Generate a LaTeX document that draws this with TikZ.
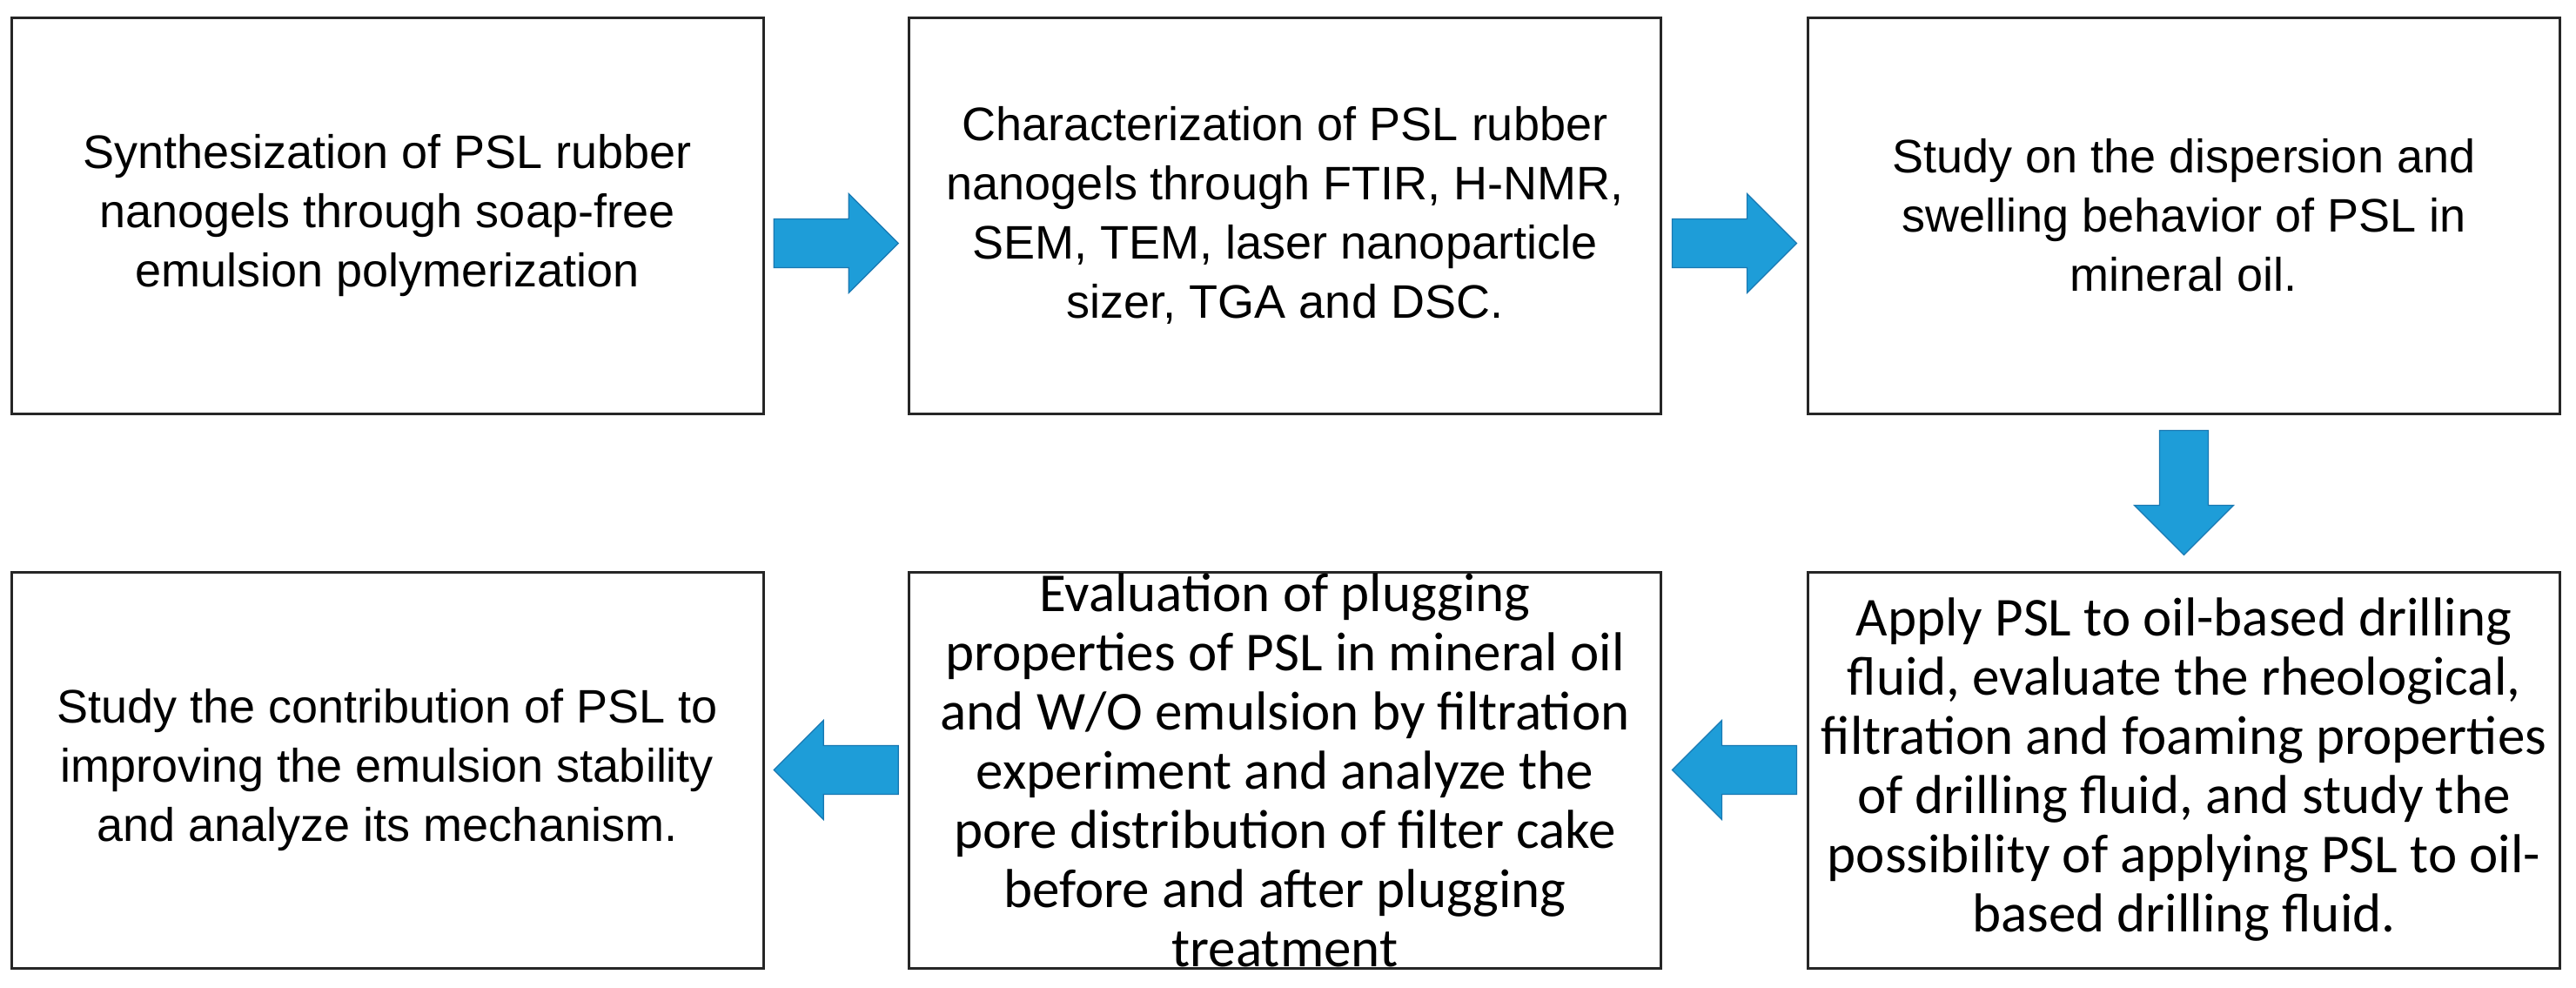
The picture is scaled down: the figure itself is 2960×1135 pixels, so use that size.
\documentclass[tikz,border=0pt]{standalone}
\usepackage{fontspec}
\setmainfont{Liberation Sans}
\newfontfamily\calib{Carlito}
\usetikzlibrary{calc}
\definecolor{arrowblue}{RGB}{30,157,216}
\definecolor{arrowedge}{RGB}{24,120,178}
\definecolor{boxline}{RGB}{38,38,38}
\tikzset{
  blockarr/.pic={\draw[blockarrow] (-71.5,-28) -- (14.5,-28) -- (14.5,-57) -- (71.5,0) -- (14.5,57) -- (14.5,28) -- (-71.5,28) -- cycle;}
}
\begin{document}
\begin{tikzpicture}[x=0.25pt,y=-0.25pt,
  stepbox/.style={draw=boxline, line width=0.75pt, fill=white, minimum width=216pt, minimum height=113.75pt, inner sep=0pt, align=center, font=\fontsize{13.5pt}{17pt}\selectfont},
  calbox/.style={stepbox, font=\calib\fontsize{15.75pt}{17pt}\selectfont},
  blockarrow/.style={fill=arrowblue, draw=arrowedge, line width=0.3pt, line join=miter}]
\useasboundingbox (0,0) rectangle (2960,1135);
\fill[white] (0,0) rectangle (2960,1135);

\node[stepbox] (b1) at (445,247.5) {Synthesization of PSL rubber\\nanogels through soap-free\\emulsion polymerization};
\node[stepbox] (b2) at (1476.5,247.5) {Characterization of PSL rubber\\nanogels through FTIR, H-NMR,\\SEM, TEM, laser nanoparticle\\sizer, TGA and DSC.};
\node[stepbox] (b3) at (2509.5,247.5) {Study on the dispersion and\\swelling behavior of PSL in\\mineral oil.};
\node[calbox] (b6) at (2509.5,884.5) {Apply PSL to oil-based drilling\\fluid, evaluate the rheological,\\filtration and foaming properties\\of drilling fluid, and study the\\possibility of applying PSL to oil-\\based drilling fluid.};
\node[calbox] (b5) at (1476.5,884.5) {Evaluation of plugging\\properties of PSL in mineral oil\\and W/O emulsion by filtration\\experiment and analyze the\\pore distribution of filter cake\\before and after plugging\\treatment};
\node[stepbox] (b4) at (445,884.5) {Study the contribution of PSL to\\improving the emulsion stability\\and analyze its mechanism.};

\coordinate (a1) at ($(b1.east)!0.5!(b2.west)+(0,32)$);
\coordinate (a2) at ($(b2.east)!0.5!(b3.west)+(0,32)$);
\coordinate (a3) at ($(b3.south)!0.5!(b6.north)$);
\coordinate (a4) at ($(b6.west)!0.5!(b5.east)$);
\coordinate (a5) at ($(b5.west)!0.5!(b4.east)$);

\pic at (a1) {blockarr};
\pic at (a2) {blockarr};
\pic[rotate=-90] at (a3) {blockarr};
\pic[rotate=180] at (a4) {blockarr};
\pic[rotate=180] at (a5) {blockarr};
\end{tikzpicture}
\end{document}
